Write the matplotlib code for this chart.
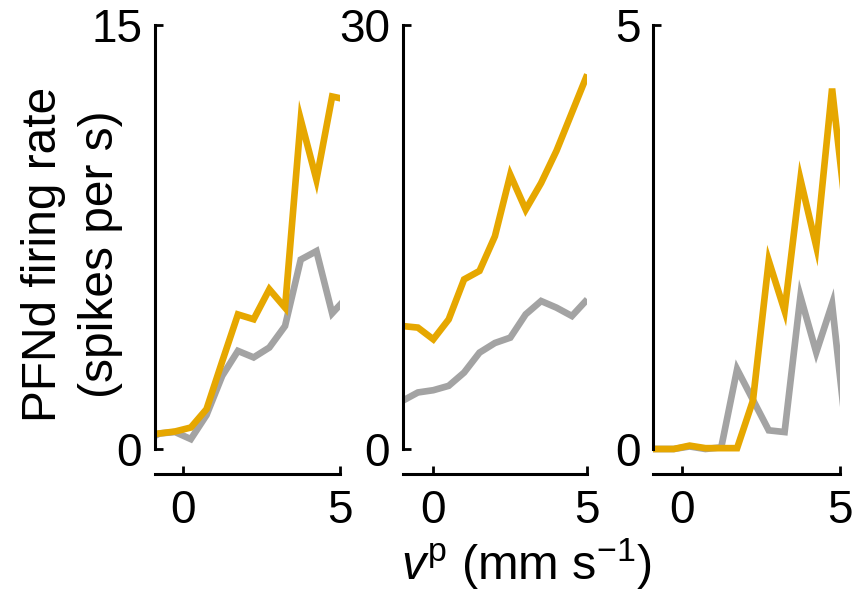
import numpy as np
import matplotlib
matplotlib.use("Agg")
import matplotlib.pyplot as plt

plt.rcParams["font.family"] = ["Liberation Sans", "DejaVu Sans"]
plt.rcParams["mathtext.fontset"] = "custom"
plt.rcParams["mathtext.rm"] = "Liberation Sans"
plt.rcParams["mathtext.it"] = "Liberation Sans:italic"

# Forward-velocity bins (mm/s)
x_offset_bins = np.arange(-1.25, 5.26, 0.5)   # panels 1 and 3
x_half_bins = np.arange(-1.0, 5.01, 0.5)      # panel 2

# Panel 1 (max 15 spikes/s)
p1_gray = [0.25, 0.55, 0.6, 0.35, 1.2, 2.59, 3.47, 3.24, 3.59, 4.35, 6.7, 7.0, 4.8, 5.4]
p1_orange = [0.5, 0.55, 0.62, 0.76, 1.41, 3.1, 4.76, 4.59, 5.65, 5.0, 11.65, 9.53, 12.47, 12.35]

# Panel 2 (max 30 spikes/s)
p2_gray = [3.41, 4.0, 4.16, 4.47, 5.41, 6.82, 7.5, 7.88, 9.53, 10.47, 10.0, 9.41, 10.59]
p2_orange = [8.7, 8.59, 7.76, 9.17, 12.0, 12.6, 15.05, 19.4, 16.94, 18.82, 21.1, 23.8, 26.5]

# Panel 3 (max 5 spikes/s)
p3_gray = [0.0, 0.0, 0.0, 0.03, 0.0, 0.02, 0.94, 0.58, 0.22, 0.2, 1.8, 1.14, 1.71, 0.0]
p3_orange = [0.0, 0.0, 0.0, 0.04, 0.01, 0.01, 0.01, 0.57, 2.22, 1.63, 3.18, 2.39, 4.25, 2.57]

panel_tops = [15, 30, 5]
panel_x = [x_offset_bins, x_half_bins, x_offset_bins]
panel_gray = [p1_gray, p2_gray, p3_gray]
panel_orange = [p1_orange, p2_orange, p3_orange]
panel_xlims = [(-0.9, 5.0), (-1.0, 5.0), (-0.9, 5.0)]
x_ticks = [0, 5]

ORANGE = "#E6A700"
GRAY = "#A3A3A3"

W, H = 857, 594
fig = plt.figure(figsize=(W / 100, H / 100), dpi=100)

lefts_px = [154.7, 402.5, 653.2]
widths_px = [185.3, 184.8, 186.8]
top_px, zero_px = 25.0, 449.0
margin = 0.02
data_h = zero_px - top_px
bottom_px = zero_px + margin * data_h

for i in range(3):
    ax = fig.add_axes([lefts_px[i] / W, 1 - bottom_px / H,
                       widths_px[i] / W, (data_h * (1 + margin)) / H])
    top = panel_tops[i]
    ax.plot(panel_x[i], panel_gray[i], color=GRAY, lw=4.8,
            solid_joinstyle="miter", solid_capstyle="butt")
    ax.plot(panel_x[i], panel_orange[i], color=ORANGE, lw=4.8,
            solid_joinstyle="miter", solid_capstyle="butt")
    ax.set_xlim(*panel_xlims[i])
    ax.set_ylim(-margin * top, top)
    ax.set_yticks([0, top])
    ax.set_yticklabels(["0", str(top)])
    ax.set_xticks(x_ticks)
    ax.set_xticklabels([str(t) for t in x_ticks])
    for side in ("top", "right"):
        ax.spines[side].set_visible(False)
    ax.spines["left"].set_bounds(0, top)
    ax.spines["left"].set_linewidth(2.2)
    ax.spines["bottom"].set_linewidth(2.2)
    ax.spines["bottom"].set_position(("outward", 11.9))
    ax.tick_params(direction="in", length=6, width=2.0, labelsize=33,
                   color="black")
    ax.tick_params(axis="y", pad=9)
    ax.tick_params(axis="x", pad=11)
    ax.patch.set_alpha(0)

fig.text(72 / W, 1 - 254 / H, "PFNd firing rate\n(spikes per s)",
         rotation=90, ha="center", va="center", multialignment="center",
         fontsize=34.5, linespacing=1.35)
fig.text(526 / W, 1 - 564 / H, r"$\it{v}^{\rm p}$ (mm s$^{-1}$)",
         ha="center", va="center", fontsize=35)

fig.savefig("out.png", dpi=100)
